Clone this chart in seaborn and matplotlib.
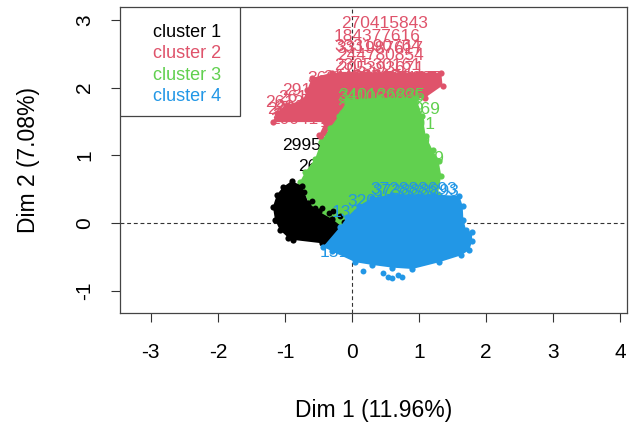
import matplotlib
matplotlib.use("Agg")
import matplotlib.pyplot as plt
from matplotlib.lines import Line2D
from matplotlib.patches import Rectangle
import seaborn as sns

sns.set_theme(style="ticks", rc={"text.color": "black", "axes.labelcolor": "black",
                                 "xtick.color": "black", "ytick.color": "black"})
plt.rcParams["font.family"] = ["Liberation Sans", "DejaVu Sans"]
plt.rcParams["axes.unicode_minus"] = False

clusters = ["cluster 1", "cluster 2", "cluster 3", "cluster 4"]
colors = ["#000000", "#DF536B", "#61D04F", "#2297E6"]
draw_order = ["cluster 2", "cluster 3", "cluster 1", "cluster 4"]

# outlines of the dense point clouds
red_x = [-1.18, -1.12, -0.97, -0.73, -0.67, -0.60, -0.30, 0.5, 1.33, 1.35, 1.09, -0.10, -0.25, -0.40, -0.46, -0.49, -0.40]
red_y = [1.49, 1.62, 1.74, 1.82, 1.96, 2.14, 2.22, 2.22, 2.22, 2.03, 1.85, 1.67, 1.45, 1.33, 1.27, 1.30, 1.49]
green_x = [-0.78, -0.70, -0.55, -0.46, -0.33, -0.20, -0.07, 0.4, 0.95, 1.05, 1.10, 1.20, 1.29, 1.33, 1.28, 0.6, -0.2, -0.6]
green_y = [0.60, 0.75, 0.95, 1.20, 1.40, 1.58, 1.82, 1.85, 1.85, 1.58, 1.28, 1.08, 0.92, 0.70, 0.42, 0.2, -0.05, 0.2]
black_x = [-1.18, -1.12, -1.03, -0.90, -0.75, -0.65, -0.50, -0.30, -0.12, -0.36, -0.45, -0.88, -0.95, -1.08, -1.15]
black_y = [0.24, 0.42, 0.53, 0.62, 0.55, 0.30, 0.17, 0.06, -0.08, -0.32, -0.30, -0.25, -0.22, -0.10, 0.05]
blue_x = [-0.43, -0.18, -0.07, 0.10, 0.30, 0.60, 1.20, 1.60, 1.65, 1.66, 1.70, 1.79, 1.79, 1.75, 1.62, 1.30, 0.90, 0.60, 0.30, 0.05, -0.30]
blue_y = [-0.35, -0.06, 0.09, 0.25, 0.37, 0.42, 0.42, 0.40, 0.25, 0.05, -0.10, -0.14, -0.27, -0.40, -0.48, -0.58, -0.68, -0.66, -0.62, -0.58, -0.42]
outliers_x = [0.16, 0.46, 0.53, 0.60, 0.69, 0.75]
outliers_y = [-0.71, -0.74, -0.80, -0.82, -0.77, -0.80]
speckle_x = [-0.45, -0.35, -0.28, -0.18, -0.05, 0.02, -0.6, -0.72, -0.55, -0.12, 0.1, 0.62]
speckle_y = [0.22, 0.15, 0.18, 0.10, 0.08, 0.03, 0.32, 0.45, 0.22, 0.02, -0.05, -0.02]

# individual labels
red_labels = ["270415843", "184377616", "333190764", "331987617", "244780854", "230530161", "205393671",
              "360112107", "294417197", "301822207", "351288437", "314557171", "291334571", "261557181",
              "261320417", "228410987", "236180911", "289421665", "286531707", "214560182", "200417953", "130021871"]
red_lx = [0.48, 0.38, 0.38, 0.42, 0.42, 0.38, 0.42, -0.02, 0.60, 0.68, 0.62, 0.22, -0.40, -0.45, -0.65, -0.62, -0.5, -0.55, -0.52, -0.55, -0.58, 0.16]
red_ly = [2.95, 2.76, 2.60, 2.57, 2.48, 2.33, 2.28, 2.14, 2.14, 2.14, 2.12, 2.15, 1.95, 1.85, 1.78, 1.68, 1.70, 1.62, 1.60, 1.58, 1.53, 1.49]
green_labels = ["341062885", "340126835", "250327669", "250332669", "120331291", "300412791", "287331929", "264331729"]
green_lx = [0.43, 0.45, 0.43, 0.67, 0.3, 0.6, 0.52, 0.72]
green_ly = [1.86, 1.88, 1.67, 1.67, 1.35, 1.45, 1.21, 0.95]
black_labels = ["299570000", "264410000"]
black_lx = [-0.39, -0.15]
black_ly = [1.15, 0.83]
blue_labels = ["372888693", "373888893", "320155671", "151200000", "133411290"]
blue_lx = [0.92, 0.95, 0.58, 0.16, 0.34]
blue_ly = [0.49, 0.46, 0.31, -0.44, 0.16]

outlines = {"cluster 1": (black_x, black_y), "cluster 2": (red_x, red_y),
            "cluster 3": (green_x, green_y), "cluster 4": (blue_x, blue_y)}
extras = {"cluster 1": (speckle_x, speckle_y), "cluster 4": (outliers_x, outliers_y)}
texts = {"cluster 1": (black_labels, black_lx, black_ly), "cluster 2": (red_labels, red_lx, red_ly),
         "cluster 3": (green_labels, green_lx, green_ly), "cluster 4": (blue_labels, blue_lx, blue_ly)}
palette = dict(zip(clusters, colors))

fig = plt.figure(figsize=(6.29, 4.25), dpi=100)
ax = fig.add_axes([120 / 629, 1 - 313 / 425, 507 / 629, 306 / 425])
ax.axhline(0, color="#333333", lw=0.8, ls=(0, (3.5, 2.5)), zorder=1)
ax.axvline(0, color="#333333", lw=0.8, ls=(0, (3.5, 2.5)), zorder=1)

z = 2
for name in draw_order:
    c = palette[name]
    ox, oy = outlines[name]
    ax.fill(ox, oy, color=c, lw=0, zorder=z)
    sns.scatterplot(x=ox, y=oy, color=c, s=20, linewidth=0, ax=ax, zorder=z, legend=False)
    if name in extras:
        ex, ey = extras[name]
        sns.scatterplot(x=ex, y=ey, color=c, s=18, linewidth=0, ax=ax, zorder=z, legend=False)
    text_z = 1.5 if name == "cluster 1" else z
    for t, lx, ly in zip(*texts[name]):
        ax.text(lx, ly, t, color=c, fontsize=12.5, ha="center", va="center", zorder=text_z, clip_on=True)
    z += 1

ax.set_xlim(-3.46, 4.10)
ax.set_ylim(-1.33, 3.19)
ax.set_xticks([-3, -2, -1, 0, 1, 2, 3, 4])
ax.set_yticks([-1, 0, 1, 2, 3])
ax.tick_params(axis="x", labelsize=15, length=6.5, width=0.8, color="#333333", pad=15)
ax.tick_params(axis="y", labelsize=15, length=6.5, width=0.8, color="#333333", pad=12)
for lab in ax.get_yticklabels():
    lab.set_rotation(90)
    lab.set_va("center")
for s in ax.spines.values():
    s.set_visible(True)
    s.set_color("#444444")
    s.set_linewidth(0.9)
ax.set_xlabel("Dim 1 (11.96%)", fontsize=16.5, labelpad=27)
ax.set_ylabel("Dim 2 (7.08%)", fontsize=16.5, labelpad=25.5)

ax.add_patch(Rectangle((0, 1 - 109 / 306), 120 / 507, 109 / 306, transform=ax.transAxes,
                       facecolor="white", edgecolor="#444444", lw=0.9, zorder=9))
handles = [Line2D([], [], lw=0, label=n) for n in clusters]
leg = ax.legend(handles=handles, loc="upper left", borderaxespad=0, frameon=False,
                fontsize=13, labelcolor=colors, handlelength=0.3,
                handletextpad=0.55, labelspacing=0.24, borderpad=0.95)
leg.set_zorder(10)

fig.savefig("out.png", dpi=100)
